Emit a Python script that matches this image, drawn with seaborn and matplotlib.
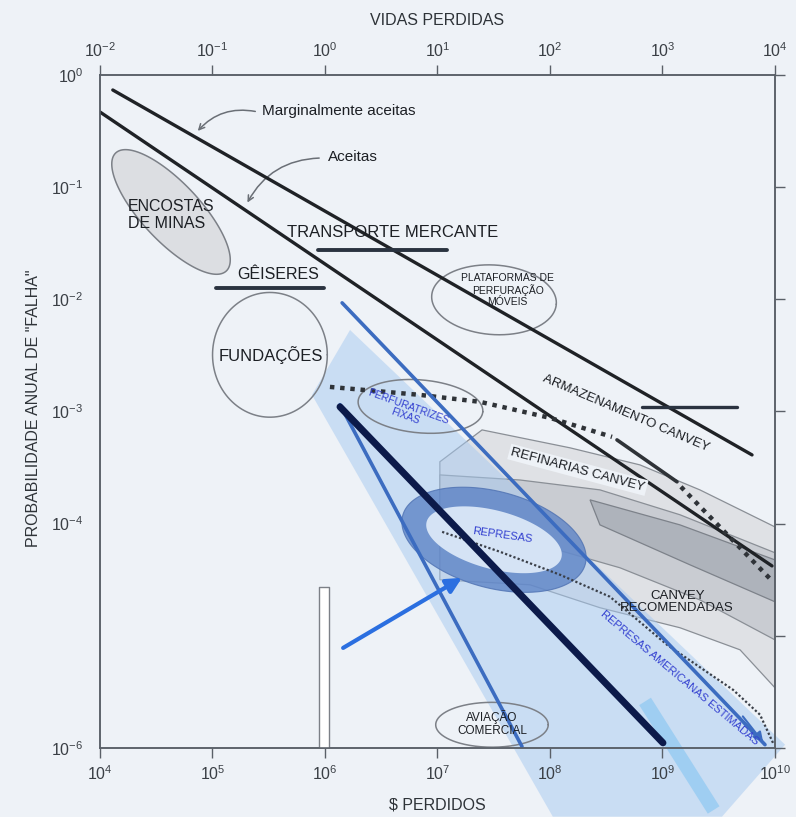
import numpy as np
import matplotlib
matplotlib.use("Agg")
import matplotlib.pyplot as plt
import seaborn as sns

# ---- eixos ----
usd_ticks = [1e4, 1e5, 1e6, 1e7, 1e8, 1e9, 1e10]
usd_labels = ["$10^{4}$", "$10^{5}$", "$10^{6}$", "$10^{7}$", "$10^{8}$", "$10^{9}$", "$10^{10}$"]
lives_ticks = [1e-2, 1e-1, 1e0, 1e1, 1e2, 1e3, 1e4]
lives_labels = ["$10^{-2}$", "$10^{-1}$", "$10^{0}$", "$10^{1}$", "$10^{2}$", "$10^{3}$", "$10^{4}$"]
prob_ticks = [1e-6, 1e-5, 1e-4, 1e-3, 1e-2, 1e-1, 1e0]
prob_labels = ["$10^{-6}$", "", "$10^{-4}$", "$10^{-3}$", "$10^{-2}$", "$10^{-1}$", "$10^{0}$"]

# ---- linhas limite ----
marginal_usd = [1.3e4, 6.25e9]
marginal_prob = [0.735, 4.1e-4]
accepted_usd = [1.0e4, 9.4e9]
accepted_prob = [0.468, 4.2e-5]

transport_usd = [8.7e5, 1.21e7]
transport_prob = [0.0275, 0.0275]
geysers_usd = [1.07e5, 9.8e5]
geysers_prob = [0.0127, 0.0127]
storage_usd = [6.6e8, 4.6e9]
storage_prob = [1.1e-3, 1.1e-3]

# Canvey existente (pontilhado grosso + trecho continuo)
canvey_dot_usd = [1.107e6, 6.98e6, 2.39e7, 1.0e8, 3.56e8]
canvey_dot_prob = [1.656e-3, 1.406e-3, 1.219e-3, 8.77e-4, 5.94e-4]
canvey_solid_usd = [3.94e8, 1.346e9]
canvey_solid_prob = [5.58e-4, 2.36e-4]
canvey_tail_usd = [1.459e9, 9.6e9]
canvey_tail_prob = [2.13e-4, 3.03e-5]

# represas americanas estimadas (pontilhado fino)
dams_usd = [1.1e7, 3.6e7, 1.23e8, 3.41e8, 1.1e9, 4.24e9, 7.36e9, 9.6e9]
dams_prob = [8.45e-5, 5.61e-5, 3.5e-5, 2.23e-5, 8.3e-6, 3.3e-6, 1.98e-6, 1.11e-6]

# faixa azul
navy_usd = [1.36e6, 1.01e9]
navy_prob = [1.1e-3, 1.11e-6]
blue_left_usd = [1.36e6, 5.64e7]
blue_left_prob = [1.15e-3, 1.03e-6]
blue_right_usd = [1.42e6, 8.15e9]
blue_right_prob = [9.3e-3, 1.07e-6]
wedge_usd = [7.66e5, 1.67e6, 1.23e10, 3.38e9, 1.06e8]
wedge_prob = [1.406e-3, 5.33e-3, 1.07e-6, 2.44e-7, 2.44e-7]
stripe_usd = [7.0e8, 2.85e9]
stripe_prob = [2.6e-6, 2.8e-7]

# regioes cinzas (Canvey)
gray_outer_usd = [1.05e7, 2.49e7, 1.51e8, 6.31e8, 2.15e9, 1e10, 1e10, 4.89e9, 1.43e9, 2.78e8, 6.64e7, 1.05e7]
gray_outer_prob = [3.56e-4, 6.85e-4, 4.74e-4, 3.34e-4, 2.0e-4, 9.35e-5, 3.44e-6, 7.5e-6, 1.18e-5, 1.78e-5, 2.85e-5, 3.16e-5]
gray_mid_usd = [1.05e7, 5.41e7, 2.78e8, 1.43e9, 1e10, 1e10, 2.15e9, 4.19e8, 8.15e7, 1.05e7]
gray_mid_prob = [2.72e-4, 2.45e-4, 2.0e-4, 1.2e-4, 5.5e-5, 9.2e-6, 2.09e-5, 4.04e-5, 6.47e-5, 8.81e-5]
gray_dark_usd = [2.27e8, 1.43e9, 1e10, 1e10, 1.75e9, 2.78e8]
gray_dark_prob = [1.63e-4, 9.75e-5, 4.75e-5, 2.01e-5, 4.3e-5, 9.75e-5]

# elipses: centro ($, prob), semi-eixos em decadas, angulo
ell_mines = ((4.28e4, 6.01e-2), (0.72, 0.26), -47)
ell_found = ((3.24e5, 3.2e-3), (0.51, 0.556), 0)
ell_mobile = ((3.18e7, 9.9e-3), (0.555, 0.31), -4)
ell_fixed = ((7.06e6, 1.11e-3), (0.556, 0.236), -5)
ell_dams_out = ((3.18e7, 7.18e-5), (0.84, 0.43), -15)
ell_dams_in = ((3.18e7, 7.18e-5), (0.62, 0.26), -15)
ell_aviation = ((3.05e7, 1.61e-6), (0.5, 0.2), 0)

rect_usd = [8.85e5, 1.086e6]
rect_top = 2.74e-5


def ellipse(spec, n=240):
    (cx, cy), (a, b), ang = spec
    t = np.linspace(0, 2 * np.pi, n)
    th = np.deg2rad(ang)
    lx = np.log10(cx) + a * np.cos(t) * np.cos(th) - b * np.sin(t) * np.sin(th)
    ly = np.log10(cy) + a * np.cos(t) * np.sin(th) + b * np.sin(t) * np.cos(th)
    return 10 ** lx, 10 ** ly


sns.set_style("white")
plt.rcParams["font.family"] = ["Liberation Sans", "DejaVu Sans"]
plt.rcParams["mathtext.fontset"] = "custom"
plt.rcParams["mathtext.rm"] = "Liberation Sans"
plt.rcParams["mathtext.it"] = "Liberation Sans:italic"
plt.rcParams["mathtext.default"] = "regular"

BG = "#eef2f7"
AXC = "#5a6068"
fig = plt.figure(figsize=(7.96, 8.17), dpi=100, facecolor=BG)
ax = fig.add_axes([0.1256, 0.0845, 0.848, 0.8237], facecolor=BG)
ax.set_xscale("log")
ax.set_yscale("log")
ax.set_xlim(1e4, 1e10)
ax.set_ylim(1e-6, 1)
ax.set_axisbelow(False)

# cinzas
ax.fill(gray_outer_usd, gray_outer_prob, facecolor="#dfe1e5", edgecolor="#8a8f96", lw=0.9, zorder=1)
ax.fill(gray_mid_usd, gray_mid_prob, facecolor="#c9ccd2", edgecolor="#8a8f96", lw=0.9, zorder=1.1)
ax.fill(gray_dark_usd, gray_dark_prob, facecolor="#aeb3bb", edgecolor="#7d828a", lw=0.9, zorder=1.2)

# faixa azul
ax.fill(wedge_usd, wedge_prob, color="#a6c9f0", alpha=0.5, lw=0, clip_on=False, zorder=2)
ax.plot(stripe_usd, stripe_prob, color="#8ec8f2", lw=10, alpha=0.7, solid_capstyle="butt", clip_on=False, zorder=2.1)

# anel das represas
x, y = ellipse(ell_dams_out)
ax.fill(x, y, facecolor="#5b82c6", alpha=0.78, edgecolor="#4c6fb0", lw=0.8, zorder=3)
x, y = ellipse(ell_dams_in)
ax.fill(x, y, facecolor="#d5e3f5", edgecolor="none", zorder=3.1)

# elipses
x, y = ellipse(ell_mines)
ax.fill(x, y, facecolor="#dcdee2", edgecolor="#7c8087", lw=1.1, zorder=3)
for spec in [ell_found, ell_mobile, ell_fixed, ell_aviation]:
    x, y = ellipse(spec)
    ax.plot(x, y, color="#7c8087", lw=1.1, zorder=3)

ax.fill_between(rect_usd, 1e-6, rect_top, facecolor="white", edgecolor="#7c8087", lw=1.0, zorder=3)

# linhas
black = "#1f2226"
sns.lineplot(x=marginal_usd, y=marginal_prob, ax=ax, color=black, lw=2.4, estimator=None, zorder=4)
sns.lineplot(x=accepted_usd, y=accepted_prob, ax=ax, color=black, lw=2.4, estimator=None, zorder=4)
sns.lineplot(x=transport_usd, y=transport_prob, ax=ax, color="#2a3340", lw=2.8, estimator=None, zorder=4)
sns.lineplot(x=geysers_usd, y=geysers_prob, ax=ax, color="#2a3340", lw=2.8, estimator=None, zorder=4)
sns.lineplot(x=storage_usd, y=storage_prob, ax=ax, color="#2a3340", lw=2.4, estimator=None, zorder=4)

ax.plot(canvey_dot_usd, canvey_dot_prob, color="#2f3338", lw=3.2, ls=(0, (1, 1.3)), zorder=4)
ax.plot(canvey_solid_usd, canvey_solid_prob, color="#2f3338", lw=2.6, zorder=4)
ax.plot(canvey_tail_usd, canvey_tail_prob, color="#2f3338", lw=3.2, ls=(0, (1, 1.3)), zorder=4)
ax.plot(dams_usd, dams_prob, color="#3a3f48", lw=1.6, ls=(0, (1, 1)), zorder=4)

sns.lineplot(x=blue_left_usd, y=blue_left_prob, ax=ax, color="#3c6cc0", lw=2.6, estimator=None, zorder=5)
sns.lineplot(x=blue_right_usd, y=blue_right_prob, ax=ax, color="#3c6cc0", lw=2.6, estimator=None, zorder=5)
sns.lineplot(x=navy_usd, y=navy_prob, ax=ax, color="#0c1a4a", lw=5, estimator=None, zorder=5)
ax.annotate("", xy=(blue_right_usd[1], blue_right_prob[1]), xytext=(5e9, 2e-6),
            arrowprops=dict(arrowstyle="-|>,head_length=0.6,head_width=0.3", color="#3c6cc0", lw=1.5), zorder=5)

# seta azul
ax.annotate("", xy=(1.65e7, 3.29e-5), xytext=(1.45e6, 7.8e-6),
            arrowprops=dict(arrowstyle="-|>,head_length=0.9,head_width=0.45", color="#2b6fe0", lw=3,
                            shrinkA=0, shrinkB=0), zorder=6)

# setas curvas
ax.annotate("", xy=(7.13e4, 0.304), xytext=(2.54e5, 0.468),
            arrowprops=dict(arrowstyle="->", color="#6a6f76", lw=1.1, connectionstyle="arc3,rad=0.3"))
ax.annotate("", xy=(1.99e5, 0.0693), xytext=(9.4e5, 0.182),
            arrowprops=dict(arrowstyle="->", color="#6a6f76", lw=1.1, connectionstyle="arc3,rad=0.3"))

# textos
dark = "#1c1f24"
blue_txt = "#3340d0"
ax.text(2.75e5, 0.477, "Marginalmente aceitas", fontsize=11, color=dark, va="center", zorder=7)
ax.text(1.06e6, 0.186, "Aceitas", fontsize=11, color=dark, va="center", zorder=7)
ax.text(1.77e4, 0.0565, "ENCOSTAS\nDE MINAS", fontsize=11.5, color=dark, va="center", linespacing=1.15, zorder=7)
ax.text(4.02e6, 0.0391, "TRANSPORTE MERCANTE", fontsize=12, color=dark, ha="center", va="center", zorder=7)
ax.text(3.82e5, 0.0168, "GÊISERES", fontsize=11.5, color=dark, ha="center", va="center", zorder=7)
ax.text(3.31e5, 3.19e-3, "FUNDAÇÕES", fontsize=12, color=dark, ha="center", va="center", zorder=7)
ax.text(4.2e7, 0.0121, "PLATAFORMAS DE\nPERFURAÇÃO\nMÓVEIS", fontsize=7.5, color=dark, ha="center",
        va="center", linespacing=1.1, zorder=7)
ax.text(5.36e6, 9.9e-4, "PERFURATRIZES\nFIXAS", fontsize=7.5, color=blue_txt, ha="center", va="center",
        rotation=-20, rotation_mode="anchor", linespacing=1.0, zorder=7)
ax.text(4.74e8, 9.53e-4, "ARMAZENAMENTO CANVEY", fontsize=9.5, color=dark, ha="center", va="center",
        rotation=-23, rotation_mode="anchor", zorder=7)
ax.text(1.77e8, 3.02e-4, "REFINARIAS CANVEY", fontsize=9.5, color=dark, ha="center", va="center",
        rotation=-15, rotation_mode="anchor", zorder=7,
        bbox=dict(boxstyle="square,pad=0.15", facecolor=BG, edgecolor="none"))
ax.text(3.74e7, 7.94e-5, "REPRESAS", fontsize=8, color=blue_txt, ha="center", va="center",
        rotation=-8, rotation_mode="anchor", zorder=7)
ax.text(1.35e9, 2.01e-5, "CANVEY\nRECOMENDADAS", fontsize=9.5, color=dark, ha="center", va="center",
        linespacing=1.05, zorder=7)
ax.text(1.43e9, 4.23e-6, "REPRESAS AMERICANAS ESTIMADAS", fontsize=8, color=blue_txt, ha="center",
        va="center", rotation=-40, rotation_mode="anchor", zorder=7)
ax.text(3.05e7, 1.64e-6, "AVIAÇÃO\nCOMERCIAL", fontsize=8.5, color=dark, ha="center", va="center",
        linespacing=1.1, zorder=7)

# ticks e rotulos
ax.set_xticks(usd_ticks, labels=usd_labels)
ax.set_yticks(prob_ticks, labels=prob_labels)
ax.minorticks_off()
ax.tick_params(which="major", direction="out", length=7, width=1, color=AXC, labelsize=11.5,
               labelcolor="#3a3f45", right=True, labelright=False, pad=5)
ax.yaxis.get_major_ticks()[1].tick1line.set_visible(False)
for s in ax.spines.values():
    s.set_color(AXC)
    s.set_linewidth(1.1)

axt = ax.twiny()
axt.set_xscale("log")
axt.set_xlim(1e-2, 1e4)
axt.set_xticks(lives_ticks, labels=lives_labels)
axt.minorticks_off()
axt.tick_params(which="major", direction="out", length=7, width=1, color=AXC, labelsize=11.5,
                labelcolor="#3a3f45", pad=4)
for s in axt.spines.values():
    s.set_color(AXC)
    s.set_linewidth(1.1)

ax.set_xlabel("$ PERDIDOS", fontsize=11.5, color="#2e3338")
ax.xaxis.set_label_coords(0.5, -0.073)
axt.set_xlabel("VIDAS PERDIDAS", fontsize=11.5, color="#2e3338")
axt.xaxis.set_label_coords(0.5, 1.074)
ax.set_ylabel('PROBABILIDADE ANUAL DE "FALHA"', fontsize=11.5, color="#2e3338")
ax.yaxis.set_label_coords(-0.088, 0.505)

fig.savefig("out.png", dpi=100, facecolor=BG)
